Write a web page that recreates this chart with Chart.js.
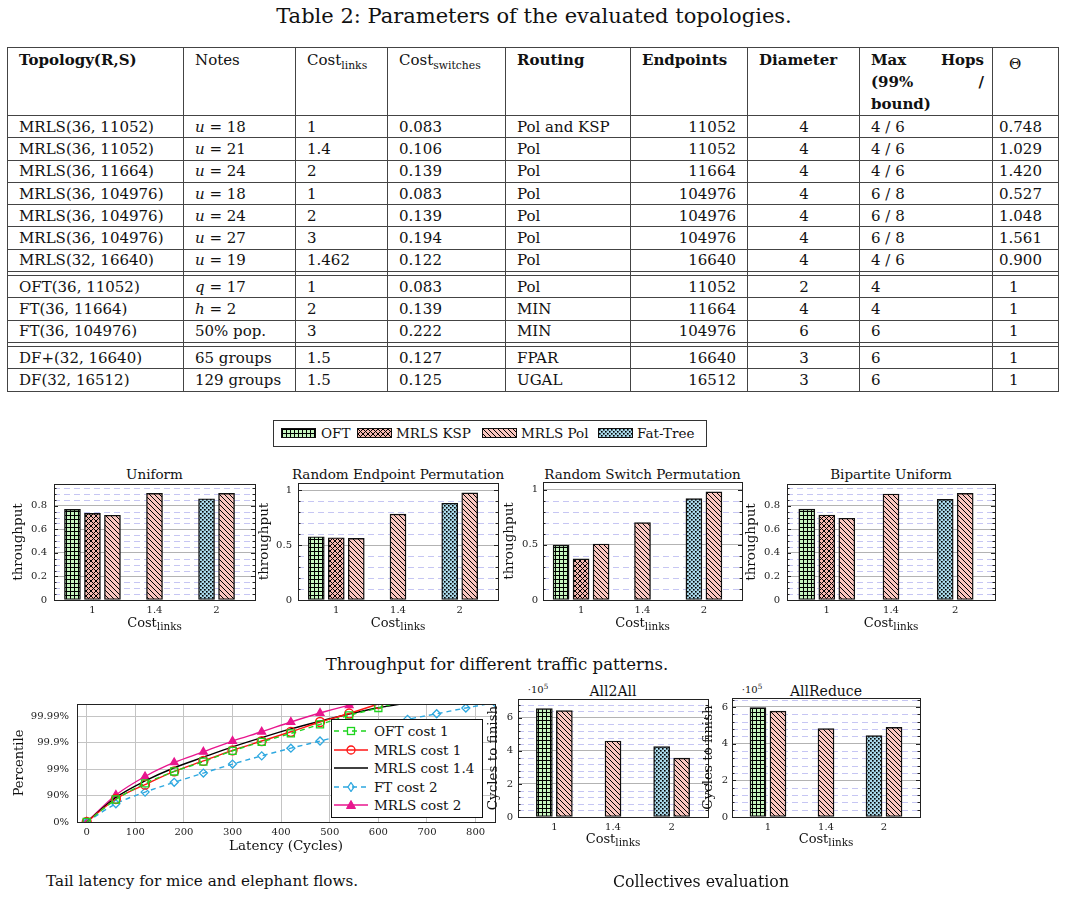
<!DOCTYPE html>
<html>
<head>
<meta charset="utf-8">
<title>Parameters of the evaluated topologies</title>
<script src="https://cdn.jsdelivr.net/npm/chart.js@4.4.1/dist/chart.umd.min.js"></script>
<style>
  body { margin: 0; background: #fff; }
  #page { position: relative; width: 1069px; height: 897px; overflow: hidden; font-family: 'DejaVu Serif', serif; color: #111; }
  .txt { position: absolute; transform: translate(-50%, -50%); white-space: nowrap; }
  .cost { font-size: 13px; }
  .cost sub { font-size: 0.8em; }
  canvas.plot { position: absolute; }
  sub { font-size: 0.72em; vertical-align: -0.35em; line-height: 0; }
  sup { font-size: 0.72em; vertical-align: 0.45em; line-height: 0; }

  table.params { position: absolute; left: 7px; top: 47px; width: 1051px; border-collapse: collapse; table-layout: fixed; font-size: 15px; }
  table.params td { border: 1px solid #444; padding: 0 10px 0 11px; white-space: nowrap; overflow: visible; }
  table.params tr { height: 22.3px; }
  table.params tr.head { height: 66px; }
  table.params tr.head td { vertical-align: top; padding-top: 1px; line-height: 22px; }
  table.params tr.sep { height: 4px; }
  table.params tr.sep td { padding: 0; font-size: 0; line-height: 0; }
  table.params td.num { text-align: right; padding-right: 11px; }
  table.params td.mid { text-align: center; }
  table.params td.th1 { padding-left: 16px; }
  table.params td.th2 { padding-left: 6px; }
  .jl { display: flex; justify-content: space-between; }

  #barLegend { position: absolute; left: 273px; top: 420px; width: 432px; height: 25px; border: 1px solid #333; font-size: 13.5px; }
  #barLegend canvas { position: absolute; top: 7px; border: 1px solid #111; }
  #barLegend span { position: absolute; top: 12px; transform: translateY(-50%); white-space: nowrap; }

  #lineLegend { position: absolute; left: 331px; top: 719px; width: 150px; height: 97px; border: 1px solid #111; background: #fff; font-size: 13.5px; z-index: 5; }
  #lineLegend .row { position: absolute; left: 2px; height: 18px; display: flex; align-items: center; }
  #lineLegend svg { margin-right: 6px; }
</style>
</head>
<body>
<div id="page">
  <div class="txt" style="left:534px; top:16px; font-size:21px;">Table 2: Parameters of the evaluated topologies.</div>
  <table class="params" id="params">
    <colgroup>
      <col style="width:176px"><col style="width:112px"><col style="width:92px"><col style="width:118px">
      <col style="width:125px"><col style="width:117px"><col style="width:112px"><col style="width:133px"><col style="width:66px">
    </colgroup>
    <tbody id="paramsBody">
      <tr class="head">
        <td><b>Topology(R,S)</b></td>
        <td>Notes</td>
        <td>Cost<sub>links</sub></td>
        <td>Cost<sub>switches</sub></td>
        <td><b>Routing</b></td>
        <td><b>Endpoints</b></td>
        <td><b>Diameter</b></td>
        <td style="padding-right:8px"><b><div class="jl"><span>Max</span><span>Hops</span></div><div class="jl"><span>(99%</span><span>/</span></div><div>bound)</div></b></td>
        <td class="th1" style="padding-top:5px">&Theta;</td>
      </tr>
    </tbody>
  </table>

  <div id="barLegend"></div>

  <div class="txt" style="left:154.5px; top:474px; font-size:13.5px;">Uniform</div>
  <div class="txt" style="left:398px; top:474px; font-size:13.5px;">Random Endpoint Permutation</div>
  <div class="txt" style="left:642.5px; top:474px; font-size:13.5px;">Random Switch Permutation</div>
  <div class="txt" style="left:891px; top:474px; font-size:13.5px;">Bipartite Uniform</div>

  <canvas class="plot" id="chUniform"></canvas>
  <canvas class="plot" id="chEndpoint"></canvas>
  <canvas class="plot" id="chSwitch"></canvas>
  <canvas class="plot" id="chBipartite"></canvas>

  <div class="txt cost" style="left:154.5px; top:622px;">Cost<sub>links</sub></div>
  <div class="txt cost" style="left:398px; top:622px;">Cost<sub>links</sub></div>
  <div class="txt cost" style="left:642.5px; top:622px;">Cost<sub>links</sub></div>
  <div class="txt cost" style="left:891px; top:622px;">Cost<sub>links</sub></div>

  <div class="txt" style="left:497px; top:664px; font-size:16.5px;">Throughput for different traffic patterns.</div>

  <canvas class="plot" id="chLatency"></canvas>
  <div id="lineLegend"></div>

  <div class="txt" style="left:613px; top:691px; font-size:14px;">All2All</div>
  <div class="txt" style="left:826px; top:691px; font-size:14px;">AllReduce</div>
  <div class="txt" style="left:538px; top:689px; font-size:10px;">&middot;10<sup>5</sup></div>
  <div class="txt" style="left:752px; top:689px; font-size:10px;">&middot;10<sup>5</sup></div>
  <canvas class="plot" id="chAll2All"></canvas>
  <canvas class="plot" id="chAllReduce"></canvas>
  <div class="txt cost" style="left:613px; top:838px;">Cost<sub>links</sub></div>
  <div class="txt cost" style="left:826px; top:838px;">Cost<sub>links</sub></div>

  <div class="txt" style="left:202px; top:881px; font-size:15.2px;">Tail latency for mice and elephant flows.</div>
  <div class="txt" style="left:701px; top:881px; font-size:15.8px;">Collectives evaluation</div>
</div>

<script>
// ---------- table data ----------
const topologies = ['MRLS(36, 11052)', 'MRLS(36, 11052)', 'MRLS(36, 11664)', 'MRLS(36, 104976)', 'MRLS(36, 104976)', 'MRLS(36, 104976)', 'MRLS(32, 16640)', 'OFT(36, 11052)', 'FT(36, 11664)', 'FT(36, 104976)', 'DF+(32, 16640)', 'DF(32, 16512)'];
const notes = ['<i>u</i> = 18', '<i>u</i> = 21', '<i>u</i> = 24', '<i>u</i> = 18', '<i>u</i> = 24', '<i>u</i> = 27', '<i>u</i> = 19', '<i>q</i> = 17', '<i>h</i> = 2', '50% pop.', '65 groups', '129 groups'];
const costLinks = ['1', '1.4', '2', '1', '2', '3', '1.462', '1', '2', '3', '1.5', '1.5'];
const costSwitches = ['0.083', '0.106', '0.139', '0.083', '0.139', '0.194', '0.122', '0.083', '0.139', '0.222', '0.127', '0.125'];
const routing = ['Pol and KSP', 'Pol', 'Pol', 'Pol', 'Pol', 'Pol', 'Pol', 'Pol', 'MIN', 'MIN', 'FPAR', 'UGAL'];
const endpoints = ['11052', '11052', '11664', '104976', '104976', '104976', '16640', '11052', '11664', '104976', '16640', '16512'];
const diameter = ['4', '4', '4', '4', '4', '4', '4', '2', '4', '6', '3', '3'];
const maxHops = ['4 / 6', '4 / 6', '4 / 6', '6 / 8', '6 / 8', '6 / 8', '4 / 6', '4', '4', '6', '6', '6'];
const theta = ['0.748', '1.029', '1.420', '0.527', '1.048', '1.561', '0.900', '1', '1', '1', '1', '1'];
const groupStarts = [7, 10];

// ---------- throughput charts ----------
const costLabels = ['1', '1.4', '2'];

const uniformOFT = [0.77, null, null];
const uniformKSP = [0.735, null, null];
const uniformFT = [null, null, 0.86];
const uniformPol = [0.72, 0.905, 0.905];

const endpointOFT = [0.577, null, null];
const endpointKSP = [0.568, null, null];
const endpointFT = [null, null, 0.883];
const endpointPol = [0.562, 0.784, 0.978];

const switchOFT = [0.497, null, null];
const switchKSP = [0.372, null, null];
const switchFT = [null, null, 0.918];
const switchPol = [0.507, 0.70, 0.978];

const bipartiteOFT = [0.772, null, null];
const bipartiteKSP = [0.722, null, null];
const bipartiteFT = [null, null, 0.855];
const bipartitePol = [0.694, 0.90, 0.905];

// ---------- collectives (cycles, x 10^5) ----------
const all2allOFT = [6.56, null, null];
const all2allFT = [null, null, 4.26];
const all2allPol = [6.44, 4.6, 3.56];

const allreduceOFT = [5.97, null, null];
const allreduceFT = [null, null, 4.44];
const allreducePol = [5.77, 4.82, 4.89];

// ---------- tail latency (y = number of nines of the percentile) ----------
const latencyX = [0, 60, 120, 180, 240, 300, 360, 420, 480, 540, 600, 660, 720, 780, 840];
const percentileLabels = ['0%', '90%', '99%', '99.9%', '99.99%'];
const oftCost1 = [0, 0.85, 1.46, 1.91, 2.28, 2.69, 3.03, 3.35, 3.69, 4.03, 4.31, 4.62];
const mrlsCost1 = [0, 0.87, 1.41, 1.91, 2.31, 2.71, 3.06, 3.41, 3.78, 4.1, 4.46, 4.78];
const mrlsCost14 = [0, 0.93, 1.55, 2.05, 2.45, 2.84, 3.19, 3.52, 3.81, 4.08, 4.32, 4.5];
const ftCost2 = [0, 0.69, 1.13, 1.5, 1.85, 2.19, 2.5, 2.79, 3.06, 3.34, 3.62, 3.88, 4.09, 4.31, 4.51];
const mrlsCost2 = [0, 1.02, 1.72, 2.25, 2.65, 3.06, 3.41, 3.78, 4.12, 4.41, 4.56];

// ---------- build table ----------
const body = document.getElementById('paramsBody');
topologies.forEach((t, i) => {
    if (groupStarts.includes(i)) {
        const sep = document.createElement('tr');
        sep.className = 'sep';
        sep.innerHTML = '<td></td>'.repeat(9);
        body.appendChild(sep);
    }
    const tr = document.createElement('tr');
    const thCls = theta[i].length > 1 ? 'th2' : 'th1';
    tr.innerHTML =
        `<td>${t}</td><td>${notes[i]}</td><td>${costLinks[i]}</td><td>${costSwitches[i]}</td>` +
        `<td>${routing[i]}</td><td class="num">${endpoints[i]}</td><td class="mid">${diameter[i]}</td>` +
        `<td>${maxHops[i]}</td><td class="${thCls}">${theta[i]}</td>`;
    body.appendChild(tr);
});

// ---------- hatch patterns ----------
function hatch(bg, kind) {
    const s = kind === 'grid' || kind === 'dots' ? 4 : 10;
    const c = document.createElement('canvas');
    c.width = c.height = s;
    const g = c.getContext('2d');
    g.fillStyle = bg;
    g.fillRect(0, 0, s, s);
    g.fillStyle = '#000';
    g.strokeStyle = '#000';
    g.lineWidth = 1;
    if (kind === 'grid') {
        g.fillRect(0, 0, s, 1);
        g.fillRect(0, 0, 1, s);
    }
    if (kind === 'nwlines' || kind === 'crosshatch') {
        g.beginPath();
        for (let k = -2; k <= 2; k++) {
            g.moveTo(k * 5, 0); g.lineTo(k * 5 + s, s);
        }
        g.stroke();
    }
    if (kind === 'crosshatch') {
        g.beginPath();
        for (let k = -2; k <= 2; k++) {
            g.moveTo(k * 5, s); g.lineTo(k * 5 + s, 0);
        }
        g.stroke();
    }
    if (kind === 'dots') {
        g.fillRect(0, 0, 1.6, 1.6);
        g.fillRect(2, 2, 1.6, 1.6);
    }
    return document.createElement('canvas').getContext('2d').createPattern(c, 'repeat');
}

const fillOFT = hatch('#c6f5bf', 'grid');
const fillKSP = hatch('#f3b6ae', 'crosshatch');
const fillPol = hatch('#fac6bf', 'nwlines');
const fillFT = hatch('#a9d9ea', 'dots');

// legend of the throughput charts (swatch left, text left, relative to the box)
const legendItems = [['OFT', fillOFT, 7, 47], ['MRLS KSP', fillKSP, 83, 122], ['MRLS Pol', fillPol, 208, 247], ['Fat-Tree', fillFT, 324, 363]];
const barLegend = document.getElementById('barLegend');
legendItems.forEach(([name, fill, sx, tx]) => {
    const c = document.createElement('canvas');
    c.width = 33; c.height = 8;
    c.style.left = sx + 'px';
    const g = c.getContext('2d');
    g.fillStyle = fill;
    g.fillRect(0, 0, 33, 8);
    barLegend.appendChild(c);
    const s = document.createElement('span');
    s.textContent = name;
    s.style.left = tx + 'px';
    barLegend.appendChild(s);
});

Chart.defaults.font.family = "'DejaVu Serif', serif";
Chart.defaults.color = '#111';

// frame, minor dashed grid and inner tick marks, pgfplots style
const plotFrame = {
    id: 'plotFrame',
    beforeDatasetsDraw(chart, args, opts) {
        if (!opts.minor) return;
        const { ctx, chartArea: a, scales: { y } } = chart;
        ctx.save();
        ctx.strokeStyle = '#c6c6f3';
        ctx.lineWidth = 1;
        ctx.setLineDash([6, 4]);
        const n = Math.floor(y.max / opts.minor + 1e-6);
        for (let i = 1; i <= n; i++) {
            if (i % opts.per === 0) continue;
            const py = Math.round(y.getPixelForValue(i * opts.minor)) + 0.5;
            ctx.beginPath();
            ctx.moveTo(a.left, py);
            ctx.lineTo(a.right, py);
            ctx.stroke();
        }
        ctx.restore();
    },
    afterDraw(chart, args, opts) {
        const { ctx, chartArea: a, scales: { y } } = chart;
        ctx.save();
        ctx.strokeStyle = '#222';
        ctx.lineWidth = 1;
        if (opts.minor) {
            const n = Math.floor(y.max / opts.minor + 1e-6);
            ctx.beginPath();
            for (let i = 1; i <= n; i++) {
                const len = i % opts.per === 0 ? 4 : 2.5;
                const py = Math.round(y.getPixelForValue(i * opts.minor)) + 0.5;
                ctx.moveTo(a.left, py); ctx.lineTo(a.left + len, py);
                ctx.moveTo(a.right, py); ctx.lineTo(a.right - len, py);
            }
            ctx.stroke();
        }
        ctx.strokeRect(Math.round(a.left) + 0.5, Math.round(a.top) + 0.5,
            Math.round(a.right - a.left), Math.round(a.bottom - a.top));
        ctx.restore();
    },
};

function placeCanvas(id, box, yW, xH, padT, padR) {
    const canvas = document.getElementById(id);
    const w = box.r - box.l + yW + padR;
    const h = box.b - box.t + padT + xH;
    canvas.width = w;
    canvas.height = h;
    canvas.style.left = (box.l - yW) + 'px';
    canvas.style.top = (box.t - padT) + 'px';
    canvas.style.width = w + 'px';
    canvas.style.height = h + 'px';
    return canvas;
}

const tickFont = { size: 10 };
const titleFont = { size: 13.5 };

function barChart(id, box, cfg) {
    const yW = cfg.yW, xH = 30, padT = 10, padR = 10;
    const canvas = placeCanvas(id, box, yW, xH, padT, padR);
    const titleOffset = yW - cfg.titleGap - 8.1;
    return new Chart(canvas, {
        type: 'bar',
        data: {
            datasets: cfg.series.map(([name, values, fill]) => ({
                label: name,
                data: values.map((v, i) => ({ x: i, y: v })),
                backgroundColor: fill,
                borderColor: '#111',
                borderWidth: 1.4,
                borderSkipped: false,
                barThickness: 20,
                maxBarThickness: 16,
                skipNull: true,
            })),
        },
        options: {
            responsive: false,
            animation: false,
            layout: { padding: { top: padT, right: padR, left: 0, bottom: 0 } },
            plugins: {
                legend: { display: false },
                tooltip: { enabled: false },
                plotFrame: { minor: cfg.minor, per: cfg.per },
            },
            scales: {
                x: {
                    type: 'linear',
                    min: -0.62,
                    max: 2.62,
                    offset: false,
                    grid: { display: false, drawTicks: false },
                    border: { display: false },
                    ticks: {
                        stepSize: 1,
                        includeBounds: false,
                        padding: 4,
                        font: tickFont,
                        color: '#222',
                        callback: (v) => costLabels[v] ?? '',
                    },
                    afterFit: (s) => { s.height = xH; },
                },
                y: {
                    min: 0,
                    max: cfg.max,
                    grid: { color: '#b3b3b3', drawTicks: false },
                    border: { display: false },
                    ticks: {
                        stepSize: cfg.step,
                        includeBounds: false,
                        padding: cfg.tickPad,
                        font: tickFont,
                        color: '#222',
                        callback: (v) => String(+v.toFixed(2)),
                    },
                    title: {
                        display: true,
                        text: cfg.yTitle,
                        font: titleFont,
                        padding: { top: titleOffset, bottom: 0 },
                    },
                    afterFit: (s) => { s.width = yW; },
                },
            },
        },
        plugins: [plotFrame],
    });
}

barChart('chUniform', { l: 54, t: 481, r: 255, b: 600 }, {
    yW: 48, titleGap: 35.7, tickPad: 7, max: 0.985, step: 0.2, minor: 0.05, per: 4, yTitle: 'throughput',
    series: [['OFT', uniformOFT, fillOFT], ['MRLS KSP', uniformKSP, fillKSP], ['Fat-Tree', uniformFT, fillFT], ['MRLS Pol', uniformPol, fillPol]],
});
barChart('chEndpoint', { l: 298, t: 481, r: 498, b: 600 }, {
    yW: 48, titleGap: 34, tickPad: 6, max: 1.068, step: 0.5, minor: 0.1, per: 5, yTitle: 'throughput',
    series: [['OFT', endpointOFT, fillOFT], ['MRLS KSP', endpointKSP, fillKSP], ['Fat-Tree', endpointFT, fillFT], ['MRLS Pol', endpointPol, fillPol]],
});
barChart('chSwitch', { l: 543, t: 481, r: 742, b: 600 }, {
    yW: 48, titleGap: 34, tickPad: 5, max: 1.068, step: 0.5, minor: 0.1, per: 5, yTitle: 'throughput',
    series: [['OFT', switchOFT, fillOFT], ['MRLS KSP', switchKSP, fillKSP], ['Fat-Tree', switchFT, fillFT], ['MRLS Pol', switchPol, fillPol]],
});
barChart('chBipartite', { l: 787, t: 481, r: 995, b: 600 }, {
    yW: 48, titleGap: 35.6, tickPad: 7, max: 0.985, step: 0.2, minor: 0.05, per: 4, yTitle: 'throughput',
    series: [['OFT', bipartiteOFT, fillOFT], ['MRLS KSP', bipartiteKSP, fillKSP], ['Fat-Tree', bipartiteFT, fillFT], ['MRLS Pol', bipartitePol, fillPol]],
});

barChart('chAll2All', { l: 518, t: 698, r: 708, b: 817 }, {
    yW: 40, titleGap: 25, tickPad: 5, max: 7.14, step: 2, minor: 0.4, per: 5, yTitle: 'Cycles to finish',
    series: [['OFT', all2allOFT, fillOFT], ['Fat-Tree', all2allFT, fillFT], ['MRLS Pol', all2allPol, fillPol]],
});
barChart('chAllReduce', { l: 732, t: 698, r: 920, b: 817 }, {
    yW: 40, titleGap: 23.4, tickPad: 4, max: 6.49, step: 2, minor: 0.4, per: 5, yTitle: 'Cycles to finish',
    series: [['OFT', allreduceOFT, fillOFT], ['Fat-Tree', allreduceFT, fillFT], ['MRLS Pol', allreducePol, fillPol]],
});

// ---------- tail latency line chart ----------
const latencySeries = [
    { name: 'OFT cost 1', values: oftCost1, color: '#1ed41e', dash: [5, 4], marker: 'rect', radius: 5, fill: false },
    { name: 'MRLS cost 1', values: mrlsCost1, color: '#ff1414', dash: [], marker: 'circle', radius: 4.5, fill: false },
    { name: 'MRLS cost 1.4', values: mrlsCost14, color: '#000000', dash: [], marker: false, radius: 0, fill: false },
    { name: 'FT cost 2', values: ftCost2, color: '#2ea8e0', dash: [5, 4], marker: 'rectRot', radius: 4, fill: false },
    { name: 'MRLS cost 2', values: mrlsCost2, color: '#e8168e', dash: [], marker: 'triangle', radius: 4.5, fill: true },
];

(function latencyChart() {
    const box = { l: 77, t: 703, r: 495, b: 822 };
    const yW = 77, xH = 38, padT = 13, padR = 10;
    const canvas = placeCanvas('chLatency', box, yW, xH, padT, padR);
    new Chart(canvas, {
        type: 'line',
        data: {
            datasets: latencySeries.map((s) => ({
                label: s.name,
                data: s.values.map((v, i) => ({ x: latencyX[i], y: v })),
                borderColor: s.color,
                borderDash: s.dash,
                borderWidth: 1.4,
                cubicInterpolationMode: 'monotone',
                pointStyle: s.marker,
                pointRadius: s.radius,
                pointBorderColor: s.color,
                pointBorderWidth: 1.3,
                pointBackgroundColor: s.fill ? s.color : 'rgba(255,255,255,0)',
            })),
        },
        options: {
            responsive: false,
            animation: false,
            layout: { padding: { top: padT, right: padR, left: 0, bottom: 0 } },
            plugins: { legend: { display: false }, tooltip: { enabled: false } },
            scales: {
                x: {
                    type: 'linear',
                    min: -20,
                    max: 840,
                    grid: { color: '#c4c4c4', drawTicks: false },
                    border: { display: false },
                    ticks: { stepSize: 100, includeBounds: false, padding: 4, font: tickFont, color: '#222' },
                    title: { display: true, text: 'Latency (Cycles)', font: titleFont, padding: { top: 0, bottom: 5 } },
                    afterFit: (s) => { s.height = xH; },
                },
                y: {
                    min: 0,
                    max: 4.46,
                    grid: { color: '#c4c4c4', drawTicks: false },
                    border: { display: false },
                    ticks: {
                        stepSize: 1,
                        includeBounds: false,
                        padding: 8,
                        font: tickFont,
                        color: '#222',
                        callback: (v) => percentileLabels[v] ?? '',
                    },
                    title: { display: true, text: 'Percentile', font: { size: 13 }, padding: { top: 12, bottom: 0 } },
                    afterFit: (s) => { s.width = yW; },
                },
            },
        },
        plugins: [plotFrame],
    });
})();

// legend of the line chart
const lineLegend = document.getElementById('lineLegend');
latencySeries.forEach((s, i) => {
    const row = document.createElement('div');
    row.className = 'row';
    row.style.top = (2 + i * 18.6) + 'px';
    const dash = s.dash.length ? `stroke-dasharray="${s.dash.join(' ')}"` : '';
    let mark = '';
    const c = s.color;
    if (s.marker === 'rect') mark = `<rect x="13.5" y="1.5" width="7" height="7" fill="none" stroke="${c}" stroke-width="1.3"/>`;
    if (s.marker === 'circle') mark = `<circle cx="17" cy="5" r="4" fill="none" stroke="${c}" stroke-width="1.3"/>`;
    if (s.marker === 'rectRot') mark = `<polygon points="17,0.5 20,5 17,9.5 14,5" fill="none" stroke="${c}" stroke-width="1.3"/>`;
    if (s.marker === 'triangle') mark = `<polygon points="17,0.5 21.5,8.5 12.5,8.5" fill="${c}" stroke="${c}" stroke-width="1"/>`;
    row.innerHTML = `<svg width="34" height="10"><line x1="0" y1="5" x2="34" y2="5" stroke="${c}" stroke-width="1.4" ${dash}/>${mark}</svg><span>${s.name}</span>`;
    lineLegend.appendChild(row);
});
</script>
</body>
</html>
